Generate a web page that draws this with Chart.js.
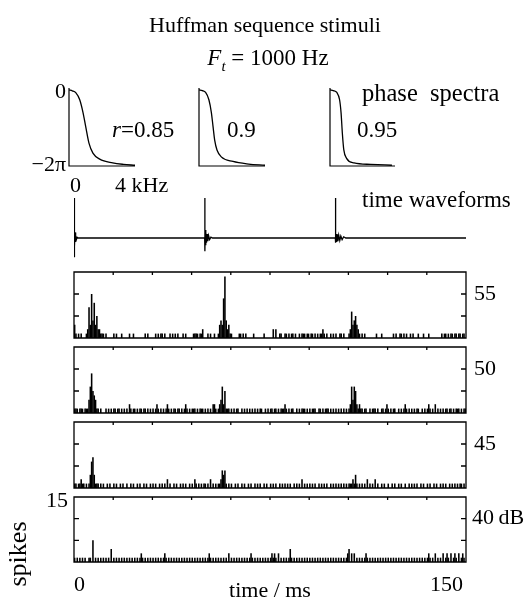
<!DOCTYPE html>
<html><head><meta charset="utf-8">
<script src="https://cdn.jsdelivr.net/npm/chart.js@4.4.1/dist/chart.umd.min.js"></script>
<style>
html,body{margin:0;padding:0;background:#fff;}
#root{position:relative;width:532px;height:600px;overflow:hidden;background:#fff;}
canvas{position:absolute;}
svg{position:absolute;left:0;top:0;}
text{font-family:"Liberation Serif","Times New Roman",serif;fill:#000;}
</style></head><body><div id="root"></div>
<script>
// ---------- data ----------
// phase spectra (frequency in kHz, phase in radians)
const freqR085 = [0, 0.2, 0.41, 0.65, 0.85, 1.01, 1.21, 1.45, 1.86, 2.65, 3.3, 4.0];
const phaseR085 = [0, -0.08, -0.23, -0.82, -1.88, -3.02, -4.40, -5.22, -5.72, -6.03, -6.15, -6.22];
const freqR09 = [0, 0.2, 0.40, 0.60, 0.75, 0.85, 0.95, 1.09, 1.35, 2.06, 3.0, 4.0];
const phaseR09 = [0, -0.07, -0.22, -0.82, -1.88, -3.02, -4.15, -4.96, -5.53, -5.91, -6.12, -6.22];
const freqR095 = [0, 0.2, 0.42, 0.59, 0.68, 0.76, 0.85, 1.02, 1.48, 2.5, 3.81];
const phaseR095 = [0, -0.07, -0.22, -0.82, -1.88, -3.58, -4.96, -5.65, -6.03, -6.15, -6.22];

// time waveform (ms, relative amplitude)
const waveT = [0, 0.05, 0.12, 0.2, 0.3, 0.42, 0.55, 0.7, 0.9, 1.2, 1.6,
  50, 50.05, 50.12, 50.22, 50.35, 50.5, 50.7, 50.9, 51.2, 51.5, 51.9, 52.4, 53,
  100, 100.05, 100.15, 100.3, 100.5, 100.75, 101.0, 101.3, 101.7, 102.1, 102.6, 103.2, 104,
  150];
const waveA = [0, 1.0, -0.48, 0.3, -0.22, 0.14, -0.1, 0.06, -0.04, 0.02, 0,
  0, 1.0, -0.33, 0.2, -0.18, 0.14, -0.12, 0.1, -0.08, 0.06, -0.04, 0.02, 0,
  0, 1.0, -0.12, 0.1, -0.1, 0.09, -0.08, 0.07, -0.06, 0.05, -0.04, 0.03, 0,
  0];

// PSTH spike counts, 0.5 ms bins from 0 to 150 ms (20 bins per row = 10 ms)
const binMs = 0.5;
const spikes55 = [
  3,1,0,1,0,1,0,0,0,1,2,7,3,10,4,8,3,5,2,2,
  1,1,1,0,1,0,0,0,0,0,1,0,1,0,0,0,1,0,0,0,
  0,0,1,0,0,1,0,0,0,0,0,0,0,0,1,0,1,0,0,0,
  0,0,1,0,1,0,1,1,0,1,0,0,0,1,0,1,0,1,0,1,
  0,0,0,1,0,1,0,0,0,0,0,1,1,1,1,0,1,1,2,0,
  0,0,1,0,1,0,0,1,0,0,1,3,4,3,9,14,4,2,3,1,
  1,0,0,0,0,0,1,1,0,1,0,1,0,0,0,0,0,1,0,0,
  0,0,0,0,0,1,0,0,0,0,0,0,2,0,2,0,0,1,1,0,
  0,1,1,0,1,0,1,1,0,1,0,0,1,0,1,1,1,0,1,1,
  0,1,1,0,1,0,1,0,1,1,2,1,0,1,0,0,1,0,1,0,
  1,0,0,1,1,0,1,0,0,0,1,2,6,3,4,5,3,2,1,0,
  1,0,1,0,0,0,0,0,0,0,0,1,0,0,0,1,0,0,0,0,
  0,0,0,0,1,0,1,0,0,1,1,0,1,0,1,0,0,1,0,1,
  0,0,0,1,0,0,0,1,0,0,0,1,0,0,0,0,0,0,0,0,
  0,1,0,1,1,0,1,0,1,1,0,1,1,0,1,1,0,1,1,0];
const spikes50 = [
  1,1,1,0,1,1,1,0,1,1,1,3,6,9,5,4,3,1,1,0,
  1,0,0,0,1,0,1,0,1,0,1,1,0,1,1,0,1,0,1,0,
  1,0,2,1,0,1,1,0,1,0,1,1,0,1,1,0,1,0,1,0,
  1,0,1,2,1,0,1,0,1,0,1,2,1,0,1,0,1,1,0,1,
  1,0,1,0,1,2,1,0,1,0,1,1,1,0,1,0,1,1,1,0,
  1,0,1,0,1,0,2,2,1,0,1,2,3,6,2,5,1,1,1,0,
  1,0,1,0,1,1,0,0,1,0,1,0,1,0,1,0,1,0,1,0,
  1,0,1,1,0,0,1,0,1,0,1,1,0,1,1,0,1,0,1,1,
  1,2,1,0,1,0,1,1,0,0,1,0,1,0,1,1,1,0,1,0,
  1,0,1,1,1,0,0,1,1,0,1,0,1,1,1,0,1,0,1,0,
  1,0,1,0,1,0,1,0,1,0,1,2,6,3,6,5,2,1,2,1,
  1,0,1,1,0,0,1,0,1,1,1,0,1,0,0,1,1,0,1,2,
  1,0,1,0,1,1,0,0,1,0,1,0,1,2,1,0,1,0,1,0,
  1,0,1,1,0,0,1,0,1,0,1,2,1,0,1,0,2,0,1,0,
  1,0,1,0,1,1,0,1,1,0,1,0,1,1,1,0,1,0,1,1];
const spikes45 = [
  1,1,0,1,1,2,1,1,0,1,0,1,3,6,7,3,1,1,1,0,
  1,0,1,0,0,1,0,1,0,0,1,0,1,0,0,1,0,1,0,0,
  1,0,0,1,0,1,0,0,1,0,1,0,0,1,0,1,0,0,1,0,
  1,0,1,0,0,1,0,1,0,1,0,2,0,1,0,0,1,0,1,0,
  0,1,0,1,0,1,0,0,1,0,1,0,2,1,0,1,0,1,0,1,
  1,0,1,0,2,0,1,0,1,0,1,1,2,4,3,4,1,0,1,0,
  1,0,0,1,0,1,0,0,1,0,1,0,0,1,0,1,0,0,1,0,
  1,0,1,0,0,1,0,1,0,0,1,0,1,0,1,0,0,1,0,1,
  0,1,0,1,0,1,0,0,1,0,1,0,1,0,2,0,1,0,1,0,
  1,0,1,0,1,0,0,1,0,1,0,1,0,1,0,0,1,0,1,0,
  1,0,1,0,1,0,1,0,1,0,1,1,1,2,1,3,1,0,1,0,
  1,0,1,0,2,0,1,0,1,0,2,0,1,0,0,1,0,1,0,0,
  1,0,0,1,0,1,0,0,1,0,1,0,0,1,0,0,1,0,1,0,
  1,0,1,0,0,1,0,1,0,0,1,0,1,0,0,1,0,1,0,0,
  1,0,1,0,1,0,0,1,0,1,0,1,0,1,0,1,1,0,1,0];
const spikes40 = [
  1,0,1,0,1,0,1,0,1,0,0,1,1,0,5,0,1,0,1,0,
  1,0,1,0,1,0,1,0,3,0,1,0,1,0,1,0,1,0,1,0,
  1,0,1,0,1,0,1,0,1,0,1,2,1,0,1,0,1,0,1,0,
  1,0,1,0,1,0,1,0,1,2,1,0,1,0,1,0,1,0,1,0,
  1,0,1,0,1,0,1,0,1,0,1,0,1,0,1,0,1,0,1,0,
  1,0,1,2,1,0,1,0,1,0,1,0,1,0,1,0,1,0,2,0,
  1,0,1,0,1,0,1,0,1,0,1,0,1,0,1,2,1,0,1,0,
  1,0,1,0,1,0,1,0,1,0,1,2,1,2,1,0,2,0,1,0,
  1,0,1,0,1,3,1,0,1,0,1,0,1,0,1,0,1,0,1,0,
  1,0,1,0,1,0,1,0,1,0,1,0,1,0,1,0,1,0,1,0,
  1,0,1,0,1,0,1,0,1,2,3,0,2,0,2,0,1,0,1,0,
  1,0,1,2,1,0,1,0,1,0,1,0,1,0,1,0,1,0,1,0,
  1,0,1,0,1,0,1,0,1,0,1,0,1,0,1,0,1,0,1,0,
  1,0,1,0,1,0,1,0,1,0,1,2,1,0,1,0,2,0,1,0,
  1,0,2,0,1,2,1,0,2,0,1,2,1,0,2,0,1,2,1,0];

// tick values
const timeTicks = [15, 30, 45, 60, 75, 90, 105, 120, 135];
const spikeTicks = [5, 10];
const timeRange = [0, 150];
const spikeRange = [0, 15];

// ---------- drawing ----------
const root = document.getElementById('root');
const PAD = 3;
function makeCanvas(l, t, r, b) {
  const c = document.createElement('canvas');
  c.width = r - l + 2 * PAD; c.height = b - t + 2 * PAD;
  c.style.left = (l - PAD) + 'px'; c.style.top = (t - PAD) + 'px';
  root.appendChild(c);
  return c;
}
const framePlugin = {
  id: 'frame',
  afterDatasetsDraw(chart, args, o) {
    const ctx = chart.ctx, a = chart.chartArea, x = chart.scales.x, y = chart.scales.y;
    ctx.save();
    ctx.strokeStyle = '#000'; ctx.lineWidth = o.lw || 1.3;
    ctx.beginPath();
    if (o.box) ctx.rect(a.left, a.top, a.right - a.left, a.bottom - a.top);
    if (o.lshape) { ctx.moveTo(a.left, a.top); ctx.lineTo(a.left, a.bottom); ctx.lineTo(a.right, a.bottom); }
    (o.xTicks || []).forEach(v => { const p = x.getPixelForValue(v); ctx.moveTo(p, a.top); ctx.lineTo(p, a.top + o.tl); });
    (o.yTicks || []).forEach(v => { const p = y.getPixelForValue(v);
      ctx.moveTo(a.left, p); ctx.lineTo(a.left + o.tl + 2, p);
      ctx.moveTo(a.right, p); ctx.lineTo(a.right - o.tl - 2, p); });
    ctx.stroke(); ctx.restore();
  }
};
const base = { responsive: false, animation: false, events: [], devicePixelRatio: 1, layout: { padding: PAD } };

function phasePlot(freq, ph, l, t, r, b) {
  new Chart(makeCanvas(l, t, r, b), {
    type: 'line',
    data: { datasets: [{ data: freq.map((f, i) => ({ x: f, y: ph[i] })), borderColor: '#000', borderWidth: 1.3,
      pointRadius: 0, cubicInterpolationMode: 'monotone', fill: false }] },
    options: Object.assign({}, base, {
      plugins: { legend: { display: false }, tooltip: { enabled: false }, frame: { lshape: true, lw: 1.2 } },
      scales: { x: { type: 'linear', min: 0, max: 4, display: false }, y: { min: -2 * Math.PI, max: 0.15, display: false } }
    }),
    plugins: [framePlugin]
  });
}
phasePlot(freqR085, phaseR085, 69, 88, 135, 166);
phasePlot(freqR09, phaseR09, 199, 88, 265, 166);
phasePlot(freqR095, phaseR095, 330, 88, 395, 166);

new Chart(makeCanvas(74, 196, 466, 262), {
  type: 'line',
  data: { datasets: [{ data: waveT.map((t, i) => ({ x: t, y: waveA[i] })), borderColor: '#000', borderWidth: 1.3,
    pointRadius: 0, tension: 0, fill: false }] },
  options: Object.assign({}, base, {
    plugins: { legend: { display: false }, tooltip: { enabled: false } },
    scales: { x: { type: 'linear', min: timeRange[0], max: timeRange[1], display: false }, y: { min: -0.6, max: 1.05, display: false } }
  })
});

function histo(vals, t, b) {
  new Chart(makeCanvas(74, t, 466, b), {
    type: 'bar',
    data: { datasets: [{ data: vals.map((v, i) => ({ x: i * binMs + binMs / 2, y: v })), backgroundColor: '#000',
      borderWidth: 0, barPercentage: 1.2, categoryPercentage: 1 }] },
    options: Object.assign({}, base, {
      plugins: { legend: { display: false }, tooltip: { enabled: false },
        frame: { box: true, xTicks: timeTicks, yTicks: spikeTicks, tl: 3, lw: 1.3 } },
      scales: { x: { type: 'linear', offset: false, min: timeRange[0], max: timeRange[1], display: false },
        y: { min: spikeRange[0], max: spikeRange[1], display: false } }
    }),
    plugins: [framePlugin]
  });
}
histo(spikes55, 272, 338);
histo(spikes50, 347, 413);
histo(spikes45, 422, 488);
histo(spikes40, 497, 562);

// ---------- text ----------
const svgNS = 'http://www.w3.org/2000/svg';
const svg = document.createElementNS(svgNS, 'svg');
svg.setAttribute('width', 532); svg.setAttribute('height', 600);
svg.innerHTML = `
<text x="265" y="32" font-size="22" text-anchor="middle">Huffman sequence stimuli</text>
<text x="268" y="65" font-size="23" text-anchor="middle"><tspan font-style="italic">F</tspan><tspan font-style="italic" font-size="15" dy="6">t</tspan><tspan dy="-6"> = 1000 Hz</tspan></text>
<text x="66" y="98" font-size="22" text-anchor="end">0</text>
<text x="66" y="171" font-size="22" text-anchor="end">\u22122\u03c0</text>
<text x="70" y="192" font-size="22">0</text>
<text x="115" y="192" font-size="22">4 kHz</text>
<text x="112" y="137" font-size="23"><tspan font-style="italic">r</tspan>=0.85</text>
<text x="227" y="137" font-size="23">0.9</text>
<text x="357" y="137" font-size="23">0.95</text>
<text x="362" y="101" font-size="24.5">phase\u00a0 spectra</text>
<text x="362" y="207" font-size="23">time waveforms</text>
<text x="474" y="300" font-size="22">55</text>
<text x="474" y="375" font-size="22">50</text>
<text x="474" y="450" font-size="22">45</text>
<text x="472" y="524" font-size="22">40\u2009dB</text>
<text x="68" y="507" font-size="22" text-anchor="end">15</text>
<text transform="translate(26,554) rotate(-90)" font-size="26" text-anchor="middle">spikes</text>
<text x="74" y="591" font-size="22">0</text>
<text x="463" y="591" font-size="22" text-anchor="end">150</text>
<text x="270" y="597" font-size="22" text-anchor="middle">time / ms</text>
`;
root.appendChild(svg);
</script></body></html>
